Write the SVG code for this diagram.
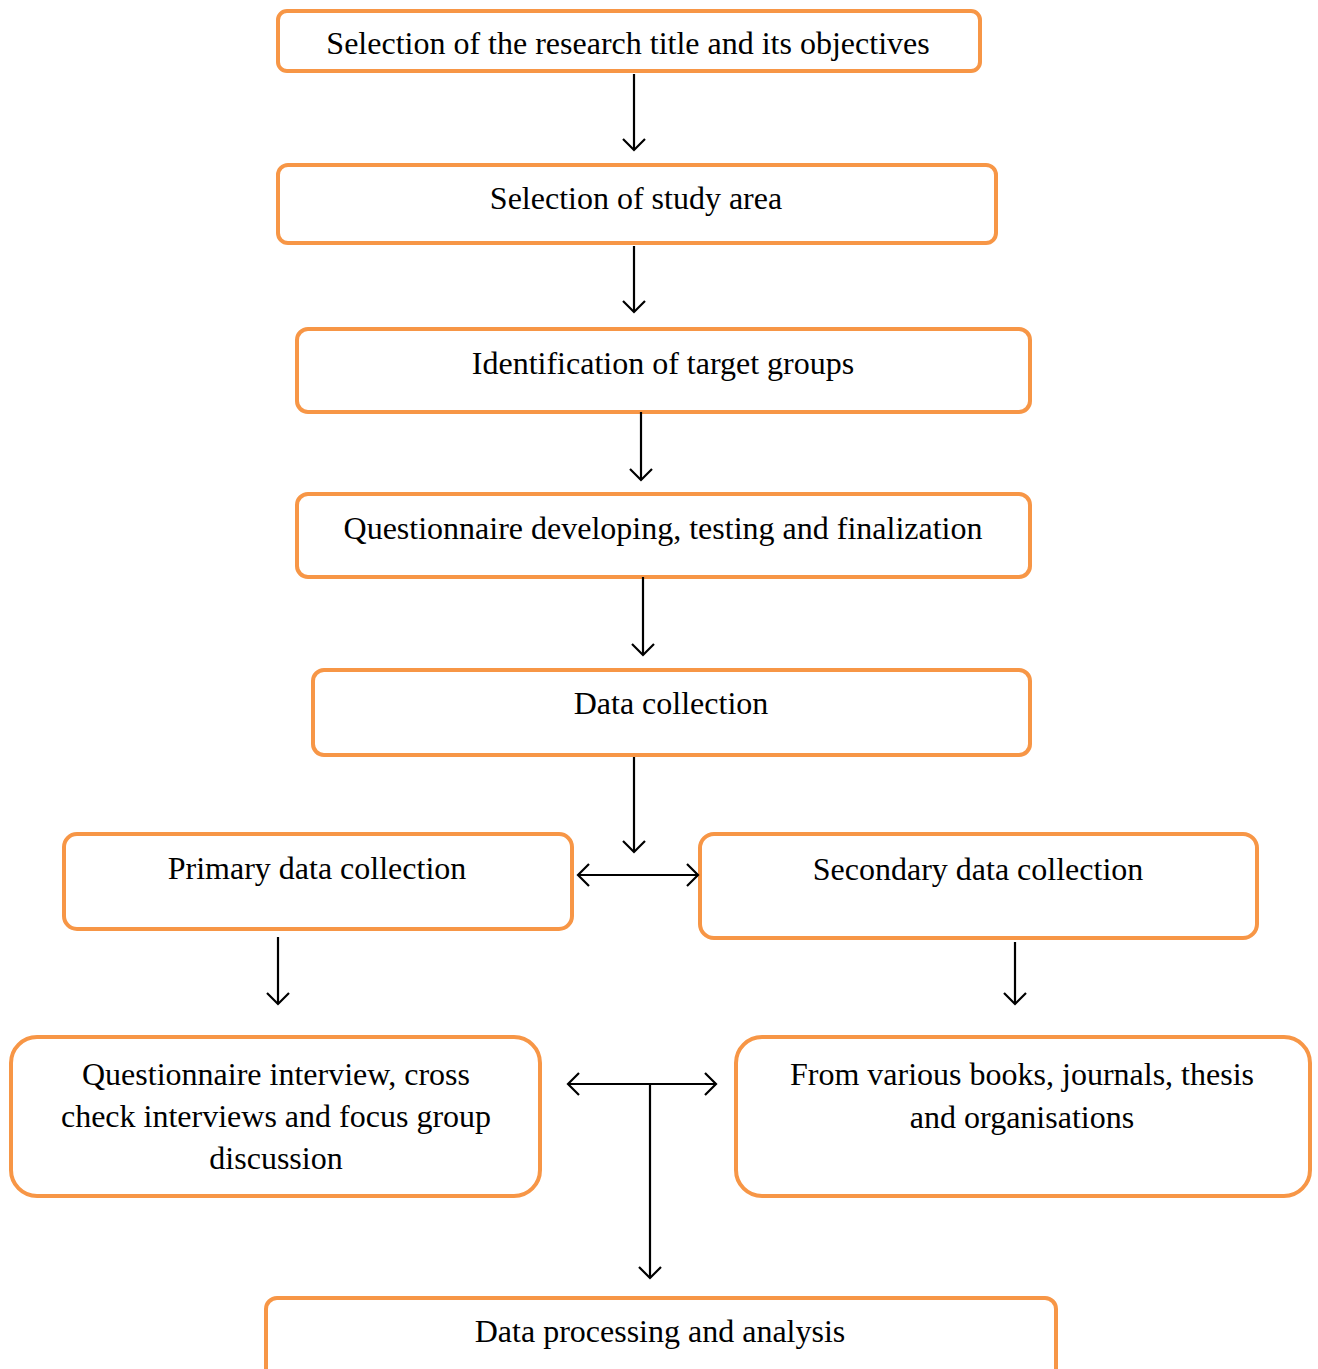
<svg xmlns="http://www.w3.org/2000/svg" width="1318" height="1369" viewBox="0 0 1318 1369">
<style>
.box{fill:#fff;stroke:#F79646;stroke-width:4}
.t{font-family:"Liberation Serif","Times New Roman",serif;font-size:32px;fill:#000;text-anchor:middle}
.c{stroke:#000;stroke-width:2.2;fill:none}
</style>
<defs>
<marker id="ah" markerWidth="14" markerHeight="24" refX="12" refY="12" orient="auto-start-reverse" markerUnits="userSpaceOnUse">
<path d="M1,1 L12,12 L1,23" fill="none" stroke="#000" stroke-width="2.2"/>
</marker>
</defs>
<rect width="1318" height="1369" fill="#fff"/>
<g id="n1"><rect class="box" x="278" y="11" width="702" height="60" rx="9"/><text class="t" x="628" y="54">Selection of the research title and its objectives</text></g>
<g id="n2"><rect class="box" x="278" y="165" width="718" height="78" rx="10"/><text class="t" x="636" y="209">Selection of study area</text></g>
<g id="n3"><rect class="box" x="297" y="329" width="733" height="83" rx="11"/><text class="t" x="663" y="374">Identification of target groups</text></g>
<g id="n4"><rect class="box" x="297" y="494" width="733" height="83" rx="11"/><text class="t" x="663" y="539">Questionnaire developing, testing and finalization</text></g>
<g id="n5"><rect class="box" x="313" y="670" width="717" height="85" rx="11"/><text class="t" x="671" y="714">Data collection</text></g>
<g id="n6"><rect class="box" x="64" y="834" width="508" height="95" rx="13"/><text class="t" x="317" y="879">Primary data collection</text></g>
<g id="n7"><rect class="box" x="700" y="834" width="557" height="104" rx="14"/><text class="t" x="978" y="880">Secondary data collection</text></g>
<g id="n8"><rect class="box" x="11" y="1037" width="529" height="159" rx="26"/><text class="t" x="276" y="1085">Questionnaire interview, cross</text><text class="t" x="276" y="1127">check interviews and focus group</text><text class="t" x="276" y="1169">discussion</text></g>
<g id="n9"><rect class="box" x="736" y="1037" width="574" height="159" rx="26"/><text class="t" x="1022" y="1085">From various books, journals, thesis</text><text class="t" x="1022" y="1128">and organisations</text></g>
<g id="n10"><rect class="box" x="266" y="1298" width="790" height="100" rx="11"/><text class="t" x="660" y="1342">Data processing and analysis</text></g>
<g id="connectors">
<line class="c" x1="634" y1="74" x2="634" y2="150" marker-end="url(#ah)"/>
<line class="c" x1="634" y1="246" x2="634" y2="312" marker-end="url(#ah)"/>
<line class="c" x1="641" y1="412" x2="641" y2="480" marker-end="url(#ah)"/>
<line class="c" x1="643" y1="577" x2="643" y2="655" marker-end="url(#ah)"/>
<line class="c" x1="634" y1="757" x2="634" y2="852" marker-end="url(#ah)"/>
<line class="c" x1="578" y1="875" x2="698" y2="875" marker-start="url(#ah)" marker-end="url(#ah)"/>
<line class="c" x1="278" y1="937" x2="278" y2="1004" marker-end="url(#ah)"/>
<line class="c" x1="1015" y1="942" x2="1015" y2="1004" marker-end="url(#ah)"/>
<line class="c" x1="568" y1="1084" x2="716" y2="1084" marker-start="url(#ah)" marker-end="url(#ah)"/>
<line class="c" x1="650" y1="1084" x2="650" y2="1278" marker-end="url(#ah)"/>
</g>
</svg>
